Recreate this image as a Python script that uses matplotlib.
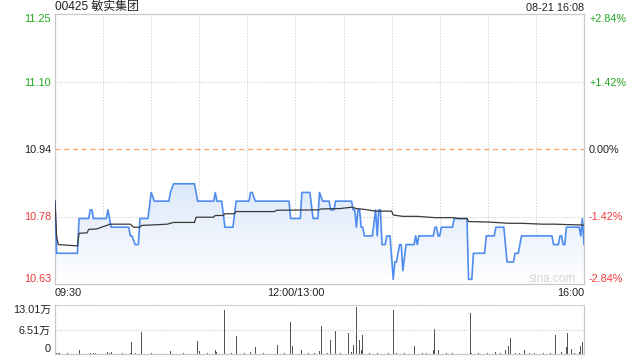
import numpy as np
import matplotlib
matplotlib.use("Agg")
import matplotlib.pyplot as plt
from matplotlib.colors import LinearSegmentedColormap
from matplotlib.transforms import blended_transform_factory

plt.rcParams['font.family'] = ['Liberation Sans', 'Noto Sans CJK SC', 'DejaVu Sans']

# dati
titolo = "00425 敏实集团"
data_ora = "08-21 16:08"
chiusura_prec = 10.94
pct_max = 0.0284

# minuti di contrattazione da 09:30 (0..330, pausa 12:00-13:00 esclusa)
prezzo_t = [0, 1, 14, 15, 21, 22, 23, 24, 32, 33, 35, 46, 47, 48, 50, 52, 53, 58, 60, 62,
            71, 72, 74, 87, 89, 99, 100, 101, 104, 106, 111, 113, 121, 122, 123, 125, 146, 147,
            153, 154, 159, 161, 164, 165, 167, 171, 172, 174, 175, 185, 186, 187, 188, 189,
            190, 191, 192, 193, 198, 200, 201, 202, 203, 204, 206, 207, 209, 211, 212, 213,
            215, 216, 217, 219, 224, 225, 226, 227, 236, 237, 238, 239, 240, 241, 248, 249,
            257, 258, 260, 261, 268, 269, 274, 275, 280, 281, 282, 286, 287, 289, 291, 310,
            311, 314, 315, 316, 317, 318, 319, 327, 328, 329, 330]
prezzo_p = [10.82, 10.70, 10.70, 10.78, 10.78, 10.80, 10.80, 10.78, 10.78, 10.80, 10.76, 10.76,
            10.74, 10.74, 10.72, 10.72, 10.78, 10.78, 10.84, 10.82, 10.82, 10.84, 10.86, 10.86,
            10.82, 10.82, 10.84, 10.82, 10.82, 10.76, 10.76, 10.82, 10.82, 10.84, 10.84, 10.82,
            10.82, 10.78, 10.78, 10.84, 10.84, 10.78, 10.78, 10.84, 10.82, 10.82, 10.80, 10.80,
            10.82, 10.82, 10.80, 10.80, 10.76, 10.80, 10.80, 10.76, 10.76, 10.74, 10.74, 10.80,
            10.74, 10.80, 10.80, 10.72, 10.72, 10.74, 10.74, 10.64, 10.68, 10.68, 10.72, 10.72,
            10.66, 10.72, 10.72, 10.74, 10.72, 10.74, 10.74, 10.76, 10.76, 10.74, 10.74, 10.76,
            10.76, 10.78, 10.78, 10.64, 10.64, 10.70, 10.70, 10.74, 10.74, 10.76, 10.76, 10.72,
            10.68, 10.68, 10.70, 10.70, 10.74, 10.74, 10.72, 10.72, 10.74, 10.74, 10.72, 10.72,
            10.76, 10.76, 10.74, 10.78, 10.72]

media_t = [0, 1, 2, 14, 15, 20, 21, 26, 29, 33, 34, 47, 49, 53, 54, 70, 74, 87, 88, 99, 100,
           105, 106, 112, 113, 137, 138, 165, 166, 178, 185, 188, 193, 200, 210, 211, 217, 226,
           237, 248, 252, 257, 258, 270, 283, 291, 304, 312, 320, 330]
media_p = [10.82, 10.74, 10.72, 10.717, 10.746, 10.747, 10.755, 10.756, 10.760, 10.765, 10.767,
           10.767, 10.760, 10.760, 10.764, 10.767, 10.771, 10.771, 10.783, 10.783, 10.787,
           10.787, 10.791, 10.791, 10.796, 10.796, 10.799, 10.800, 10.802, 10.803, 10.806,
           10.803, 10.801, 10.797, 10.797, 10.788, 10.785, 10.785, 10.782, 10.782, 10.780,
           10.780, 10.773, 10.772, 10.769, 10.769, 10.767, 10.767, 10.766, 10.765]

vol_t = [1, 2, 3, 8, 15, 22, 24, 25, 33, 34, 35, 42, 47, 48, 50, 54, 60, 72, 80, 89, 90, 95,
         100, 101, 106, 110, 113, 118, 122, 125, 130, 139, 143, 147, 148, 154, 158, 162, 165,
         166, 170, 172, 175, 178, 183, 185, 186, 188, 190, 191, 192, 194, 196, 199, 201, 204,
         208, 211, 213, 218, 224, 229, 232, 236, 237, 239, 244, 248, 259, 260, 264, 267, 270,
         275, 278, 281, 283, 284, 287, 290, 293, 296, 299, 305, 309, 312, 316, 319, 320, 322,
         324, 325, 327, 328, 329, 330]
vol_v = [3000, 2500, 3000, 2000, 11400, 3500, 3000, 2500, 4000, 3500, 4000, 2000, 3000, 30800,
         3000, 57200, 2000, 7000, 2000, 33400, 7000, 2500, 11400, 4000, 117000, 2500, 46600,
         2000, 4000, 17600, 2500, 22900, 2000, 86200, 20200, 9700, 2500, 3000, 8800, 75600,
         3000, 36000, 59800, 2500, 54500, 4000, 22900, 125800, 37800, 11400, 51000, 62500,
         3000, 4500, 3500, 22900, 2500, 117000, 2000, 2500, 20200, 2000, 2500, 11400, 66900,
         11400, 2500, 3000, 110000, 3000, 2500, 38700, 3000, 4500, 2500, 11400, 20200, 41300,
         3500, 2500, 9700, 2500, 2500, 2000, 2500, 49300, 5000, 17600, 54500, 12300, 3500,
         28100, 5000, 20200, 30800, 130100]

etichette_sx = ["11.25", "11.10", "10.94", "10.78", "10.63"]
etichette_dx = ["+2.84%", "+1.42%", "0.00%", "-1.42%", "-2.84%"]
livelli_pct = [pct_max, pct_max / 2, 0, -pct_max / 2, -pct_max]
etichette_vol = ["13.01万", "6.51万", "0"]
vol_max = 130100
orari = ["09:30", "12:00/13:00", "16:00"]
orari_t = [0, 150, 330]

verde = "#22a522"
rosso = "#f03a3a"
grigio = "#c8c8c8"
blu = "#4f8cf0"

fig = plt.figure(figsize=(6.4, 3.6), dpi=100)
ax = fig.add_axes([55 / 640, 1 - 284 / 360, 529 / 640, 270 / 360])
axv = fig.add_axes([55 / 640, 1 - 354 / 360, 529 / 640, 49 / 360])

ymin = chiusura_prec * (1 - pct_max)
ymax = chiusura_prec * (1 + pct_max)
ax.set_xlim(0, 330)
ax.set_ylim(ymin, ymax)

# griglia
for t in range(30, 330, 30):
    ax.axvline(t, color="#d0d0d0", lw=0.8, ls=(0, (1, 1.5)), zorder=0)
for pct in [pct_max / 2, -pct_max / 2]:
    ax.axhline(chiusura_prec * (1 + pct), color="#d0d0d0", lw=0.8, ls=(0, (1, 1.5)), zorder=0)
ax.axhline(chiusura_prec, color="#f5a36b", lw=0.9, ls=(0, (4, 3)), zorder=1)

# riempimento sfumato
poly = ax.fill_between(prezzo_t, prezzo_p, ymin, color="none", lw=0)
cmap = LinearSegmentedColormap.from_list("sf", ["#ffffff", "#dce8fb"])
grad = np.linspace(0, 1, 256).reshape(-1, 1)
img = ax.imshow(grad, cmap=cmap, aspect="auto", origin="lower",
                extent=[0, 330, ymin, max(prezzo_p)], zorder=1)
img.set_clip_path(poly.get_paths()[0], transform=ax.transData)

ax.plot(prezzo_t, prezzo_p, color=blu, lw=1.2, zorder=3)
ax.plot(media_t, media_p, color="#3a3a3a", lw=0.9, zorder=4)

ax.set_xticks([])
ax.set_yticks([])
for s in ax.spines.values():
    s.set_color(grigio)
    s.set_linewidth(0.9)

# etichette asse prezzi
tr_sx = blended_transform_factory(fig.transFigure, ax.transData)
for i, (l, r, pct) in enumerate(zip(etichette_sx, etichette_dx, livelli_pct)):
    y = chiusura_prec * (1 + pct)
    c = verde if pct > 0 else (rosso if pct < 0 else "#222222")
    va = "top" if i == 0 else ("bottom" if i == len(etichette_sx) - 1 else "center_baseline")
    ax.text(51 / 640, y, l, transform=tr_sx, ha="right", va=va, fontsize=7.8, color=c)
    ax.text(589 / 640, y, r, transform=tr_sx, ha="left", va=va, fontsize=7.8, color=c)

tr_x = blended_transform_factory(ax.transData, fig.transFigure)
for lab, t in zip(orari, orari_t):
    ha = "left" if t == 0 else ("right" if t == 330 else "center")
    ax.text(t, 1 - 293 / 360, lab, transform=tr_x, ha=ha, va="center", fontsize=7.8, color="#222222")

fig.text(55 / 640, 1 - 7 / 360, titolo, ha="left", va="center", fontsize=8.6, color="#222222")
fig.text(584 / 640, 1 - 8 / 360, data_ora, ha="right", va="center", fontsize=7.8, color="#222222")
ax.text(552 / 640, 1 - 279 / 360, "sina.com", transform=fig.transFigure, ha="center",
        va="center", fontsize=8.5, color="#d4d4d4", zorder=5)

# volume
axv.set_xlim(0, 330)
axv.set_ylim(0, vol_max)
axv.bar(vol_t, vol_v, width=0.6, color="#555555", lw=0)
axv.axhline(vol_max / 2, color="#c8c8c8", lw=0.8, ls=(0, (1, 1.5)))
axv.set_xticks([])
axv.set_yticks([])
for k in ["left", "right", "bottom"]:
    axv.spines[k].set_color(grigio)
    axv.spines[k].set_linewidth(0.9)
axv.spines["top"].set_linestyle((0, (1, 1.5)))
axv.spines["top"].set_color("#c8c8c8")
axv.spines["top"].set_linewidth(0.8)

tr_v = blended_transform_factory(fig.transFigure, axv.transData)
for lab, v, va in zip(etichette_vol, [vol_max, vol_max / 2, 0], ["top", "center_baseline", "bottom"]):
    axv.text(51 / 640, v, lab, transform=tr_v, ha="right", va=va, fontsize=7.8, color="#222222")

fig.savefig("out.png", dpi=100)
